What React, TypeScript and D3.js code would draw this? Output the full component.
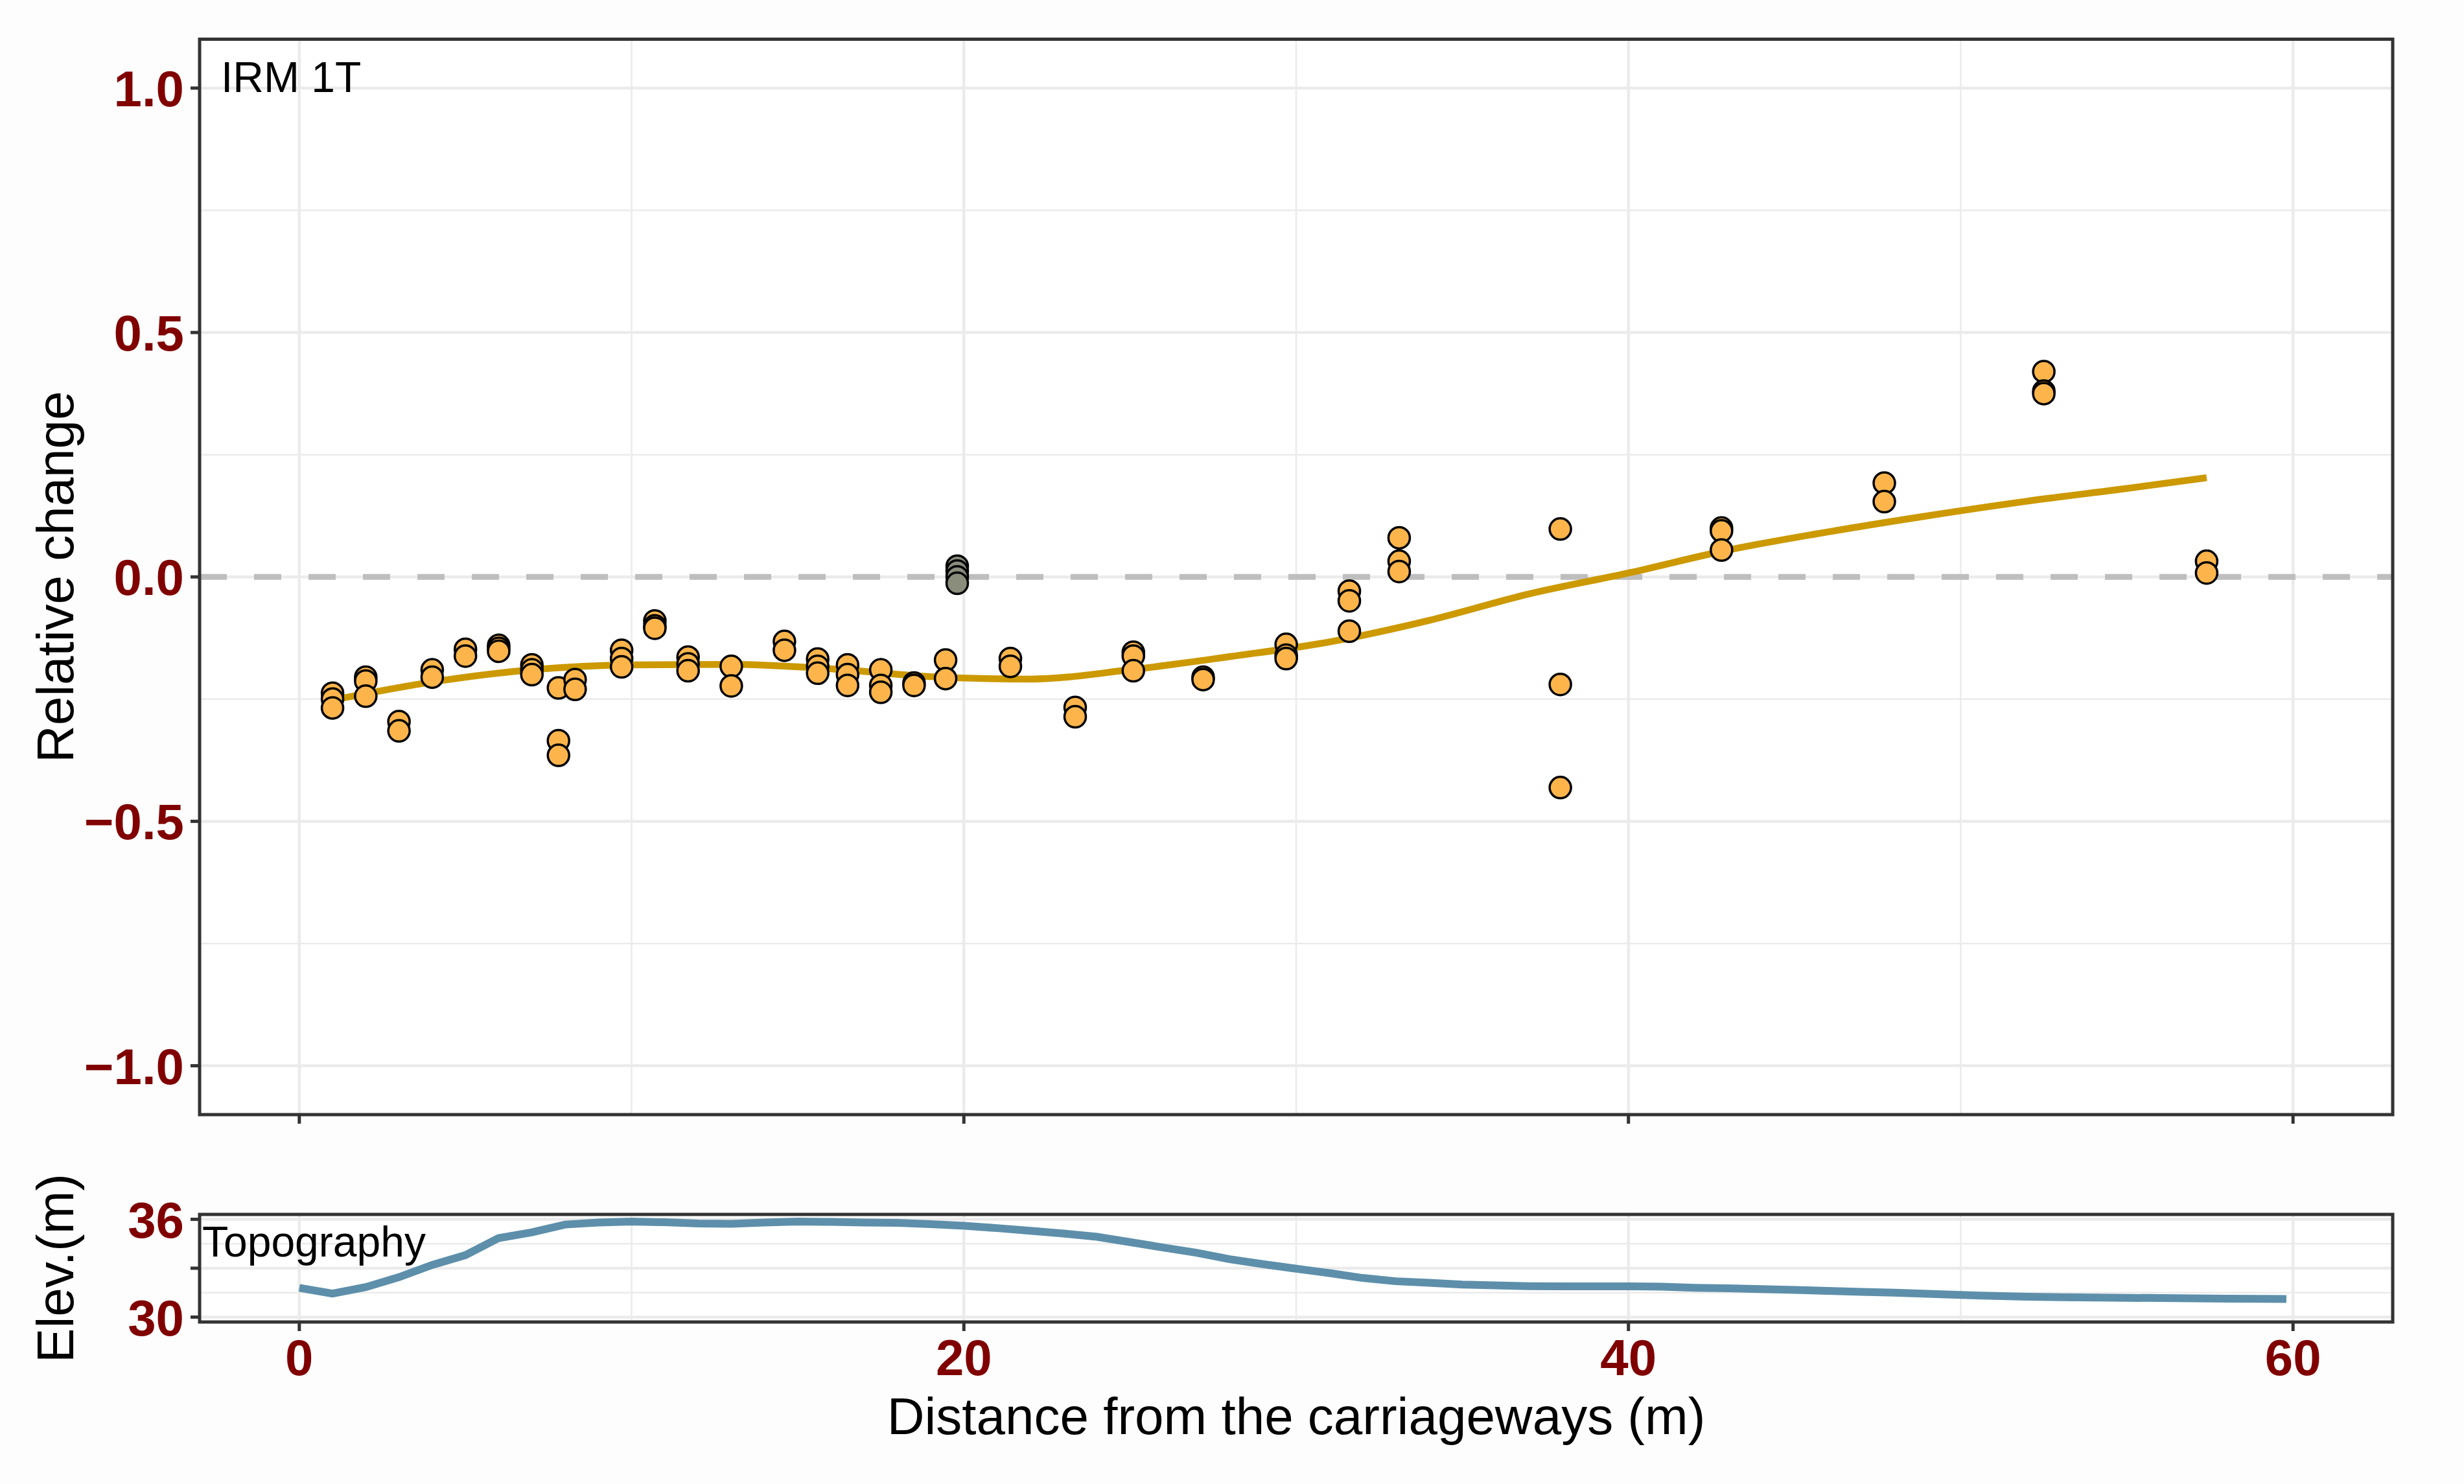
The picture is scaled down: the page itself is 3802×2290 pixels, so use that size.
import * as d3 from 'd3'

// sample sites: distance (m) and relative change of each replicate
const siteDistance = [1, 2, 3, 4, 5, 6, 7, 7.8, 8.3, 9.7, 10.7, 11.7, 13, 14.6, 15.6, 16.5, 17.5, 18.5, 19.45, 21.4, 23.35, 25.1, 27.2, 29.7, 31.6, 33.1, 37.95, 42.8, 47.7, 52.5, 57.4]
const siteValues = [
  [-0.238, -0.25, -0.268],
  [-0.205, -0.213, -0.244],
  [-0.296, -0.315],
  [-0.19, -0.205],
  [-0.148, -0.162],
  [-0.14, -0.146, -0.152],
  [-0.18, -0.19, -0.2],
  [-0.227, -0.335, -0.365],
  [-0.21, -0.23],
  [-0.15, -0.167, -0.184],
  [-0.09, -0.1, -0.105],
  [-0.164, -0.178, -0.192],
  [-0.183, -0.223],
  [-0.132, -0.15],
  [-0.168, -0.183, -0.197],
  [-0.18, -0.2, -0.222],
  [-0.19, -0.222, -0.236],
  [-0.217, -0.222],
  [-0.17, -0.208],
  [-0.167, -0.183],
  [-0.267, -0.286],
  [-0.154, -0.162, -0.192],
  [-0.205, -0.21],
  [-0.138, -0.16, -0.167],
  [-0.029, -0.049, -0.111],
  [0.08, 0.032, 0.011],
  [0.098, -0.22, -0.431],
  [0.1, 0.094, 0.055],
  [0.192, 0.154],
  [0.42, 0.38, 0.375],
  [0.032, 0.008]
]

// reference (grey) samples
const controlDistance = 19.8
const controlValues = [0.022, 0.012, 0.0, -0.013]

// smooth trend
const smoothX = [1, 4, 7, 10, 13, 16, 19, 22, 25, 28, 31, 34, 37, 40, 43, 46, 49, 52, 55, 57.4]
const smoothY = [-0.252, -0.215, -0.19, -0.18, -0.179, -0.188, -0.204, -0.209, -0.19, -0.163, -0.133, -0.089, -0.035, 0.008, 0.055, 0.092, 0.125, 0.155, 0.181, 0.203]

// topography profile
const topoX = [0, 1, 2, 3, 4, 5, 6, 7, 8, 9, 10, 11, 12, 13, 14, 15, 16, 17, 18, 19, 20, 21, 22, 23, 24, 25, 26, 27, 28, 29, 30, 31, 32, 33, 34, 35, 36, 37, 38, 39, 40, 41, 42, 43, 44, 45, 46, 47, 48, 49, 50, 51, 52, 53, 54, 55, 56, 57, 58, 59.8]
const topoElev = [31.79, 31.44, 31.84, 32.45, 33.2, 33.8, 34.85, 35.2, 35.68, 35.8, 35.86, 35.82, 35.74, 35.72, 35.8, 35.86, 35.84, 35.8, 35.78, 35.7, 35.6, 35.46, 35.3, 35.13, 34.93, 34.6, 34.27, 33.95, 33.55, 33.25, 32.97, 32.7, 32.4, 32.2, 32.11, 32.0, 31.95, 31.9, 31.89, 31.89, 31.89, 31.87, 31.8, 31.77, 31.72, 31.67, 31.61, 31.55, 31.5, 31.43, 31.36, 31.3, 31.25, 31.22, 31.2, 31.18, 31.17, 31.15, 31.13, 31.11]

const xTicks = [0, 20, 40, 60]
const xMinor = [10, 30, 50]
const yTicks = [-1, -0.5, 0, 0.5, 1]
const yTickLabels = ['\u22121.0', '\u22120.5', '0.0', '0.5', '1.0']
const yMinor = [-0.75, -0.25, 0.25, 0.75]
const elevTicks = [30, 33, 36]
const elevTickLabels = ['30', '', '36']
const elevMinor = [31.5, 34.5]

const W = 3802
const H = 2290
const FONT = "'Liberation Sans', Arial, Helvetica, sans-serif"
const TICK_COL = '#800000'
const GRID = '#EBEBEB'
const BORDER = '#333333'

export default function App() {
  const x = d3.scaleLinear().domain([-3, 63]).range([308, 3692])
  const y = d3.scaleLinear().domain([-1.1, 1.1]).range([1720, 60.5])
  const yE = d3.scaleLinear().domain([29.7, 36.3]).range([2040, 1874])

  const [x0, x1] = x.range()
  const [mainBottom, mainTop] = y.range()
  const [elevBottom, elevTop] = yE.range()

  const smoothLine = d3.line<number>()
    .x((_, i) => x(smoothX[i]))
    .y(d => y(d))
    .curve(d3.curveMonotoneX)

  const topoLine = d3.line<number>()
    .x((_, i) => x(topoX[i]))
    .y(d => yE(d))

  const points = siteDistance.flatMap((dist, i) => siteValues[i].map(v => ({ dist, v })))

  return (
    <svg width={W} height={H} style={{ position: 'absolute', left: 0, top: 0, background: '#fdfdfd' }}
      fontFamily={FONT}>
      {/* main panel */}
      <rect x={x0} y={mainTop} width={x1 - x0} height={mainBottom - mainTop} fill="#ffffff" />
      {yMinor.map(t => (
        <line key={'ym' + t} x1={x0} x2={x1} y1={y(t)} y2={y(t)} stroke={GRID} strokeWidth={2.5} />
      ))}
      {xMinor.map(t => (
        <line key={'xm' + t} x1={x(t)} x2={x(t)} y1={mainTop} y2={mainBottom} stroke={GRID} strokeWidth={2.5} />
      ))}
      {yTicks.map(t => (
        <line key={'yg' + t} x1={x0} x2={x1} y1={y(t)} y2={y(t)} stroke={GRID} strokeWidth={4.5} />
      ))}
      {xTicks.map(t => (
        <line key={'xg' + t} x1={x(t)} x2={x(t)} y1={mainTop} y2={mainBottom} stroke={GRID} strokeWidth={4.5} />
      ))}
      <line x1={x0} x2={x1} y1={y(0)} y2={y(0)} stroke="#BEBEBE" strokeWidth={9} strokeDasharray="42 42" />
      <path d={smoothLine(smoothY) || ''} fill="none" stroke="#CC9900" strokeWidth={10.5} />
      {points.map((p, i) => (
        <circle key={'p' + i} cx={x(p.dist)} cy={y(p.v)} r={16.5} fill="#FDB54B" stroke="#000" strokeWidth={3.5} />
      ))}
      {controlValues.map((v, i) => (
        <circle key={'c' + i} cx={x(controlDistance)} cy={y(v)} r={16.5} fill="#8A8C7C" stroke="#000" strokeWidth={3.5} />
      ))}
      <text x={341} y={142} fontSize={66} fill="#000">IRM 1T</text>
      <rect x={x0} y={mainTop} width={x1 - x0} height={mainBottom - mainTop} fill="none" stroke={BORDER} strokeWidth={5} />

      {/* main y axis */}
      {yTicks.map((t, i) => (
        <g key={'yt' + t}>
          <line x1={x0 - 14} x2={x0} y1={y(t)} y2={y(t)} stroke={BORDER} strokeWidth={5} />
          <text x={284} y={y(t)} dy="0.36em" textAnchor="end" fontSize={78} fontWeight="bold" fill={TICK_COL}>{yTickLabels[i]}</text>
        </g>
      ))}
      {xTicks.map(t => (
        <line key={'xt1' + t} x1={x(t)} x2={x(t)} y1={mainBottom} y2={mainBottom + 14} stroke={BORDER} strokeWidth={5} />
      ))}
      <text transform={`translate(113,${(mainTop + mainBottom) / 2}) rotate(-90)`} textAnchor="middle" fontSize={80} fill="#000">Relative change</text>

      {/* topography panel */}
      <rect x={x0} y={elevTop} width={x1 - x0} height={elevBottom - elevTop} fill="#ffffff" />
      {elevMinor.map(t => (
        <line key={'em' + t} x1={x0} x2={x1} y1={yE(t)} y2={yE(t)} stroke={GRID} strokeWidth={2.5} />
      ))}
      {xMinor.map(t => (
        <line key={'exm' + t} x1={x(t)} x2={x(t)} y1={elevTop} y2={elevBottom} stroke={GRID} strokeWidth={2.5} />
      ))}
      {elevTicks.map(t => (
        <line key={'eg' + t} x1={x0} x2={x1} y1={yE(t)} y2={yE(t)} stroke={GRID} strokeWidth={4.5} />
      ))}
      {xTicks.map(t => (
        <line key={'exg' + t} x1={x(t)} x2={x(t)} y1={elevTop} y2={elevBottom} stroke={GRID} strokeWidth={4.5} />
      ))}
      <path d={topoLine(topoElev) || ''} fill="none" stroke="#5D8FAA" strokeWidth={12} />
      <text x={312} y={1939} fontSize={66} fill="#000">Topography</text>
      <rect x={x0} y={elevTop} width={x1 - x0} height={elevBottom - elevTop} fill="none" stroke={BORDER} strokeWidth={5} />
      {elevTicks.map((t, i) => (
        <g key={'et' + t}>
          <line x1={x0 - 14} x2={x0} y1={yE(t)} y2={yE(t)} stroke={BORDER} strokeWidth={5} />
          <text x={284} y={yE(t)} dy="0.36em" textAnchor="end" fontSize={78} fontWeight="bold" fill={TICK_COL}>{elevTickLabels[i]}</text>
        </g>
      ))}
      {xTicks.map(t => (
        <g key={'ext' + t}>
          <line x1={x(t)} x2={x(t)} y1={elevBottom} y2={elevBottom + 14} stroke={BORDER} strokeWidth={5} />
          <text x={x(t)} y={2122} textAnchor="middle" fontSize={78} fontWeight="bold" fill={TICK_COL}>{t}</text>
        </g>
      ))}
      <text transform={`translate(113,${(elevTop + elevBottom) / 2}) rotate(-90)`} textAnchor="middle" fontSize={80} fill="#000">Elev.(m)</text>
      <text x={(x0 + x1) / 2} y={2213} textAnchor="middle" fontSize={80} fill="#000">Distance from the carriageways (m)</text>
    </svg>
  )
}
